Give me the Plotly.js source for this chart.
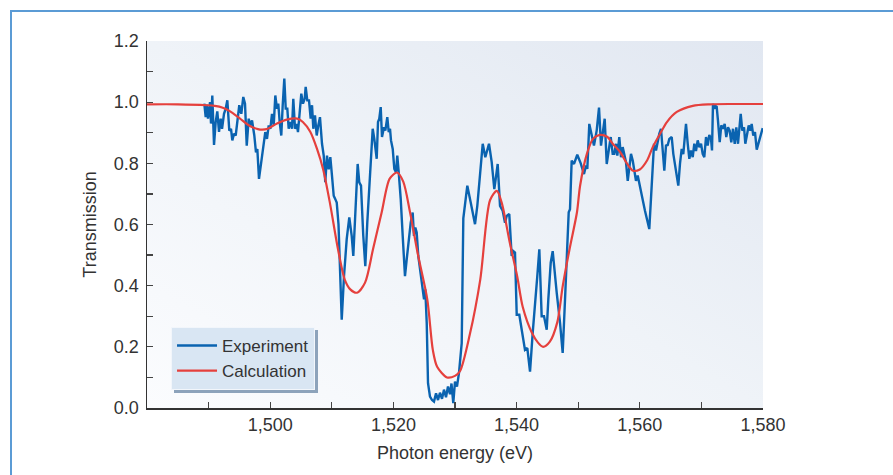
<!DOCTYPE html>
<html>
<head>
<meta charset="utf-8">
<script src="https://cdn.plot.ly/plotly-3.0.1.min.js"></script>
<style>
  html, body { margin: 0; padding: 0; background: #ffffff; }
  #wrap { position: relative; width: 893px; height: 475px; overflow: hidden; }
  #frame { position: absolute; left: 10px; top: 10px; width: 900px; height: 480px;
           border-top: 2px solid #5b9bd5; border-left: 2px solid #5b9bd5; }
  #bg { position: absolute; left: 147px; top: 41px; width: 616px; height: 367px;
        background: linear-gradient(to top right, #fbfcfe 0%, #eff3f8 50%, #e1e7f1 100%); }
  #chart { position: absolute; left: 0; top: 0; width: 893px; height: 475px; }
  #chart .legend .bg { filter: drop-shadow(3px 3px 0 #8da3bb); }
</style>
</head>
<body>
<div id="wrap">
  <div id="frame"></div>
  <div id="bg"></div>
  <div id="chart"></div>
</div>
<script>
// Experiment: photon energy (eV) and transmission
const expEnergy = [
  1489.30,1489.53,1489.69,1489.90,1490.23,1490.39,1490.60,1490.88,1491.15,1491.41,
  1491.69,1491.96,1492.18,1492.50,1492.78,1493.04,1493.36,1493.64,1493.85,1494.12,
  1494.40,1494.72,1494.98,1495.31,1495.63,1495.91,1496.19,1496.51,1496.77,1497.05,
  1497.42,1497.69,1497.91,1498.18,1498.56,1498.99,1499.20,1499.48,1499.76,1500.02,
  1500.29,1500.57,1500.83,1501.10,1501.31,1501.54,1501.80,1502.03,1502.29,1502.52,
  1502.78,1503.00,1503.26,1503.54,1503.75,1504.03,1504.30,1504.51,1504.79,1505.05,
  1505.32,1505.60,1505.76,1506.02,1506.30,1506.57,1506.79,1507.00,1507.27,1507.55,
  1507.81,1508.08,1508.41,1508.69,1508.94,1509.22,1509.50,1509.76,1510.03,1510.31,
  1510.57,1510.80,1511.09,1511.33,1511.61,1511.98,1512.42,1512.84,1513.23,1513.49,
  1513.77,1514.20,1514.46,1514.74,1515.11,1515.44,1515.76,1516.20,1516.64,1516.90,
  1517.29,1517.50,1517.71,1517.94,1518.15,1518.47,1518.69,1519.01,1519.24,1519.45,
  1519.61,1519.89,1520.15,1520.42,1520.63,1520.86,1521.19,1521.51,1521.88,1522.16,
  1522.48,1522.81,1523.13,1523.34,1523.56,1523.78,1524.04,1524.43,1524.76,1524.97,
  1525.18,1525.41,1525.62,1525.94,1526.27,1526.59,1526.92,1527.24,1527.56,1527.89,
  1528.21,1528.54,1528.86,1529.19,1529.43,1529.72,1530.00,1530.32,1530.65,1531.09,
  1531.35,1531.62,1532.00,1532.55,1533.25,1533.62,1534.06,1534.50,1534.92,1535.52,
  1535.96,1536.38,1536.61,1536.93,1537.31,1537.74,1538.12,1538.39,1538.81,1539.20,
  1539.46,1539.74,1540.02,1540.44,1540.83,1541.36,1541.74,1542.18,1542.61,1542.99,
  1543.36,1543.69,1544.07,1544.45,1544.89,1545.15,1545.54,1545.86,1546.07,1546.51,
  1547.05,1547.48,1547.86,1548.23,1548.46,1548.67,1548.94,1549.32,1549.85,1550.41,
  1550.94,1551.27,1551.48,1551.80,1552.19,1552.56,1553.00,1553.38,1553.70,1553.98,
  1554.30,1554.63,1554.95,1555.28,1555.60,1555.86,1556.14,1556.35,1556.67,1556.95,
  1557.22,1557.48,1557.76,1558.04,1558.30,1558.57,1558.85,1559.06,1559.38,1559.66,
  1559.92,1560.31,1560.84,1561.54,1561.93,1562.31,1562.63,1562.84,1563.17,1563.44,
  1563.72,1563.98,1564.25,1564.53,1564.79,1565.18,1565.44,1565.71,1565.99,1566.25,
  1566.53,1566.80,1567.06,1567.22,1567.50,1567.78,1568.04,1568.31,1568.59,1568.85,
  1569.12,1569.40,1569.66,1569.94,1570.21,1570.47,1570.75,1571.02,1571.28,1571.56,
  1571.72,1571.88,1572.09,1572.32,1572.48,1572.69,1572.97,1573.23,1573.51,1573.78,
  1574.04,1574.32,1574.59,1574.85,1575.13,1575.41,1575.67,1575.94,1576.22,1576.38,
  1576.64,1576.92,1577.13,1577.40,1577.68,1577.94,1578.16,1578.42,1578.70,1578.98,
  1579.30,1579.68,1579.95
];
const expTransmission = [
  0.995,0.951,0.992,0.946,1.000,0.930,1.022,0.860,0.935,0.970,
  0.903,0.946,0.913,0.962,0.979,1.006,0.907,0.913,0.875,0.897,
  0.891,0.946,0.990,0.962,1.017,0.995,0.858,0.946,0.924,0.940,
  0.891,0.836,0.847,0.749,0.804,0.869,0.902,0.880,0.924,0.913,
  0.962,0.924,1.022,0.979,0.995,0.935,0.891,0.990,1.077,0.979,
  0.979,0.913,0.935,0.913,1.011,0.913,0.929,0.902,0.979,1.028,
  0.995,1.011,1.050,1.006,1.006,0.946,0.990,0.913,0.957,0.891,
  0.924,0.951,0.864,0.825,0.738,0.825,0.780,0.820,0.760,0.694,
  0.683,0.672,0.600,0.443,0.289,0.431,0.552,0.623,0.563,0.497,
  0.606,0.798,0.738,0.727,0.563,0.464,0.606,0.771,0.913,0.880,
  0.815,0.935,0.946,0.984,0.886,0.918,0.907,0.951,0.902,0.913,
  0.875,0.847,0.782,0.771,0.825,0.771,0.683,0.563,0.431,0.486,
  0.541,0.606,0.639,0.563,0.590,0.574,0.497,0.431,0.388,0.355,
  0.388,0.278,0.081,0.037,0.026,0.021,0.048,0.026,0.050,0.030,
  0.060,0.035,0.070,0.045,0.080,0.016,0.086,0.070,0.115,0.212,
  0.620,0.661,0.727,0.672,0.601,0.661,0.771,0.864,0.820,0.864,
  0.804,0.716,0.749,0.798,0.661,0.645,0.606,0.628,0.634,0.497,
  0.513,0.508,0.305,0.305,0.256,0.190,0.196,0.119,0.245,0.355,
  0.431,0.519,0.300,0.300,0.256,0.355,0.475,0.513,0.464,0.377,
  0.278,0.180,0.355,0.560,0.640,0.650,0.809,0.798,0.828,0.800,
  0.765,0.793,0.782,0.929,0.891,0.858,0.907,0.982,0.858,0.897,
  0.946,0.798,0.847,0.886,0.831,0.831,0.864,0.825,0.886,0.820,
  0.853,0.830,0.804,0.743,0.793,0.831,0.809,0.782,0.743,0.760,
  0.732,0.694,0.645,0.585,0.749,0.864,0.842,0.864,0.897,0.913,
  0.850,0.776,0.858,0.860,0.880,0.886,0.831,0.793,0.754,0.727,
  0.800,0.847,0.830,0.869,0.929,0.864,0.815,0.842,0.820,0.864,
  0.840,0.875,0.853,0.864,0.831,0.820,0.886,0.858,0.893,0.880,
  0.842,0.995,0.979,0.987,0.985,0.940,0.869,0.924,0.913,0.929,
  0.886,0.918,0.907,0.869,0.913,0.864,0.918,0.864,0.918,0.962,
  0.907,0.918,0.864,0.897,0.924,0.907,0.929,0.891,0.902,0.845,
  0.869,0.890,0.915
];
// Calculation: photon energy (eV) and transmission
const calcEnergy = [
  1480.0,1485.0,1489.7,1491.0,1492.3,1493.5,1495.1,1496.7,1498.0,1498.7,
  1499.6,1501.1,1502.7,1504.4,1505.3,1506.5,1507.6,1508.6,1509.7,1511.0,
  1512.1,1513.0,1514.1,1515.4,1516.7,1518.1,1519.4,1520.6,1521.6,1522.7,
  1524.0,1525.5,1526.4,1527.1,1528.7,1530.0,1530.8,1532.4,1534.1,1535.7,
  1536.8,1537.6,1538.9,1540.1,1541.0,1542.5,1543.5,1544.3,1545.4,1546.6,
  1547.5,1548.6,1549.8,1550.3,1551.4,1552.4,1553.5,1554.7,1555.6,1556.8,
  1557.9,1558.9,1560.0,1561.2,1562.1,1563.3,1564.4,1566.0,1568.6,1571.4,
  1575.0,1580.0
];
const calcTransmission = [
  0.993,0.993,0.990,0.988,0.982,0.970,0.946,0.922,0.912,0.910,
  0.913,0.930,0.943,0.946,0.935,0.903,0.847,0.780,0.670,0.520,
  0.420,0.388,0.377,0.410,0.520,0.640,0.750,0.770,0.740,0.640,
  0.500,0.355,0.190,0.135,0.100,0.105,0.120,0.240,0.420,0.680,
  0.710,0.670,0.540,0.430,0.330,0.245,0.213,0.200,0.217,0.280,
  0.400,0.520,0.640,0.726,0.830,0.880,0.893,0.887,0.864,0.837,
  0.800,0.776,0.780,0.810,0.853,0.897,0.935,0.968,0.988,0.993,
  0.994,0.994
];
const xTickVals = [1500, 1520, 1540, 1560, 1580];
const xTickText = ['1,500', '1,520', '1,540', '1,560', '1,580'];
const yTickVals = [0.0, 0.2, 0.4, 0.6, 0.8, 1.0, 1.2];
const yTickText = ['0.0', '0.2', '0.4', '0.6', '0.8', '1.0', '1.2'];

const FONT = 'Liberation Sans, Arial, sans-serif';
const traces = [
  { x: expEnergy, y: expTransmission, mode: 'lines', name: 'Experiment',
    line: { color: '#0a63b0', width: 2.4 } },
  { x: calcEnergy, y: calcTransmission, mode: 'lines', name: 'Calculation',
    line: { color: '#e5403d', width: 2.2, shape: 'spline', smoothing: 0.8 } }
];
const layout = {
  width: 893, height: 475,
  margin: { l: 147, r: 130, t: 41, b: 67 },
  paper_bgcolor: 'rgba(0,0,0,0)', plot_bgcolor: 'rgba(0,0,0,0)',
  font: { family: FONT, size: 18, color: '#333333' },
  showlegend: true,
  legend: {
    x: 0.039, y: 0.221, xanchor: 'left', yanchor: 'top',
    bgcolor: '#d9e6f3', bordercolor: '#f2f6fb', borderwidth: 1,
    font: { family: FONT, size: 17, color: '#333333' },
    itemwidth: 40, tracegroupgap: 0
  },
  xaxis: {
    range: [1480, 1580], tickmode: 'array', tickvals: xTickVals, ticktext: xTickText,
    ticks: 'inside', ticklen: 6, tickwidth: 1.2, tickcolor: '#444',
    minor: { dtick: 10, tick0: 1480, ticks: 'inside', ticklen: 6, tickwidth: 1.2, tickcolor: '#444' },
    showline: true, linecolor: '#333', linewidth: 1.5, showgrid: false, zeroline: false,
    tickfont: { family: FONT, size: 18, color: '#333' },
    title: { text: 'Photon energy (eV)', font: { family: FONT, size: 18, color: '#333' }, standoff: 12 }
  },
  yaxis: {
    range: [0, 1.2], tickmode: 'array', tickvals: yTickVals, ticktext: yTickText,
    ticks: 'inside', ticklen: 6, tickwidth: 1.2, tickcolor: '#444',
    minor: { dtick: 0.1, tick0: 0, ticks: 'inside', ticklen: 6, tickwidth: 1.2, tickcolor: '#444' },
    showline: true, linecolor: '#333', linewidth: 1.5, showgrid: false, zeroline: false,
    ticklabelstandoff: 3,
    tickfont: { family: FONT, size: 18, color: '#333' },
    title: { text: 'Transmission', font: { family: FONT, size: 18, color: '#333' }, standoff: 12 }
  }
};
Plotly.newPlot('chart', traces, layout, { displayModeBar: false, staticPlot: true });
</script>
</body>
</html>
